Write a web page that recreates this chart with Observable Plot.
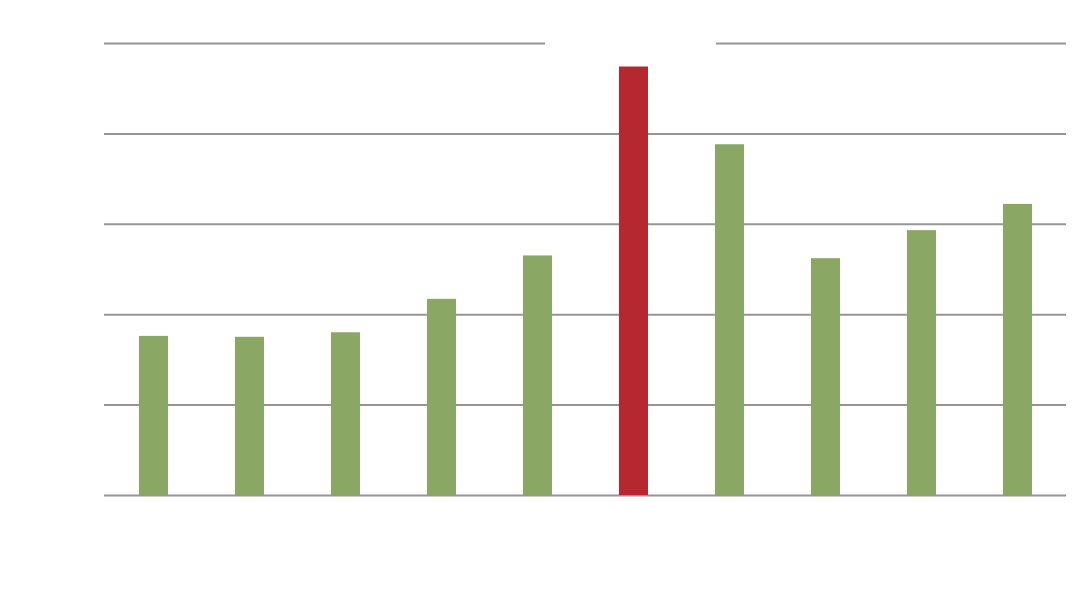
<!DOCTYPE html>
<html>
<head>
<meta charset="utf-8">
<script src="https://cdn.jsdelivr.net/npm/d3@7"></script>
<script src="https://cdn.jsdelivr.net/npm/@observablehq/plot@0.6"></script>
<style>
  body { margin: 0; background: #fff; }
</style>
</head>
<body>
<div id="chart"></div>
<script>
const categories = ["1", "2", "3", "4", "5", "6", "7", "8", "9", "10"];
const values = [17.6, 17.5, 18.0, 21.7, 26.5, 47.4, 38.8, 26.2, 29.3, 32.2];
const highlight = "6";
const gridTicks = [0, 10, 20, 30, 40, 50];

const data = categories.map((c, i) => ({category: c, value: values[i]}));

const chart = Plot.plot({
  width: 1092,
  height: 608,
  marginLeft: 104,
  marginRight: 26,
  marginTop: 43,
  marginBottom: 113,
  x: {domain: categories, paddingInner: 0.70, paddingOuter: 0.36, axis: null},
  y: {domain: [0, 50], axis: null},
  marks: [
    Plot.ruleY(gridTicks, {stroke: "#969696", strokeWidth: 2}),
    Plot.barY([{category: highlight}], {x: "category", y1: 48.5, y2: 51.5, fill: "#fff", insetLeft: -74, insetRight: -68}),
    Plot.barY(data, {x: "category", y: "value", fill: d => d.category === highlight ? "#b5282f" : "#8aa764"})
  ]
});
document.getElementById("chart").appendChild(chart);
</script>
</body>
</html>
